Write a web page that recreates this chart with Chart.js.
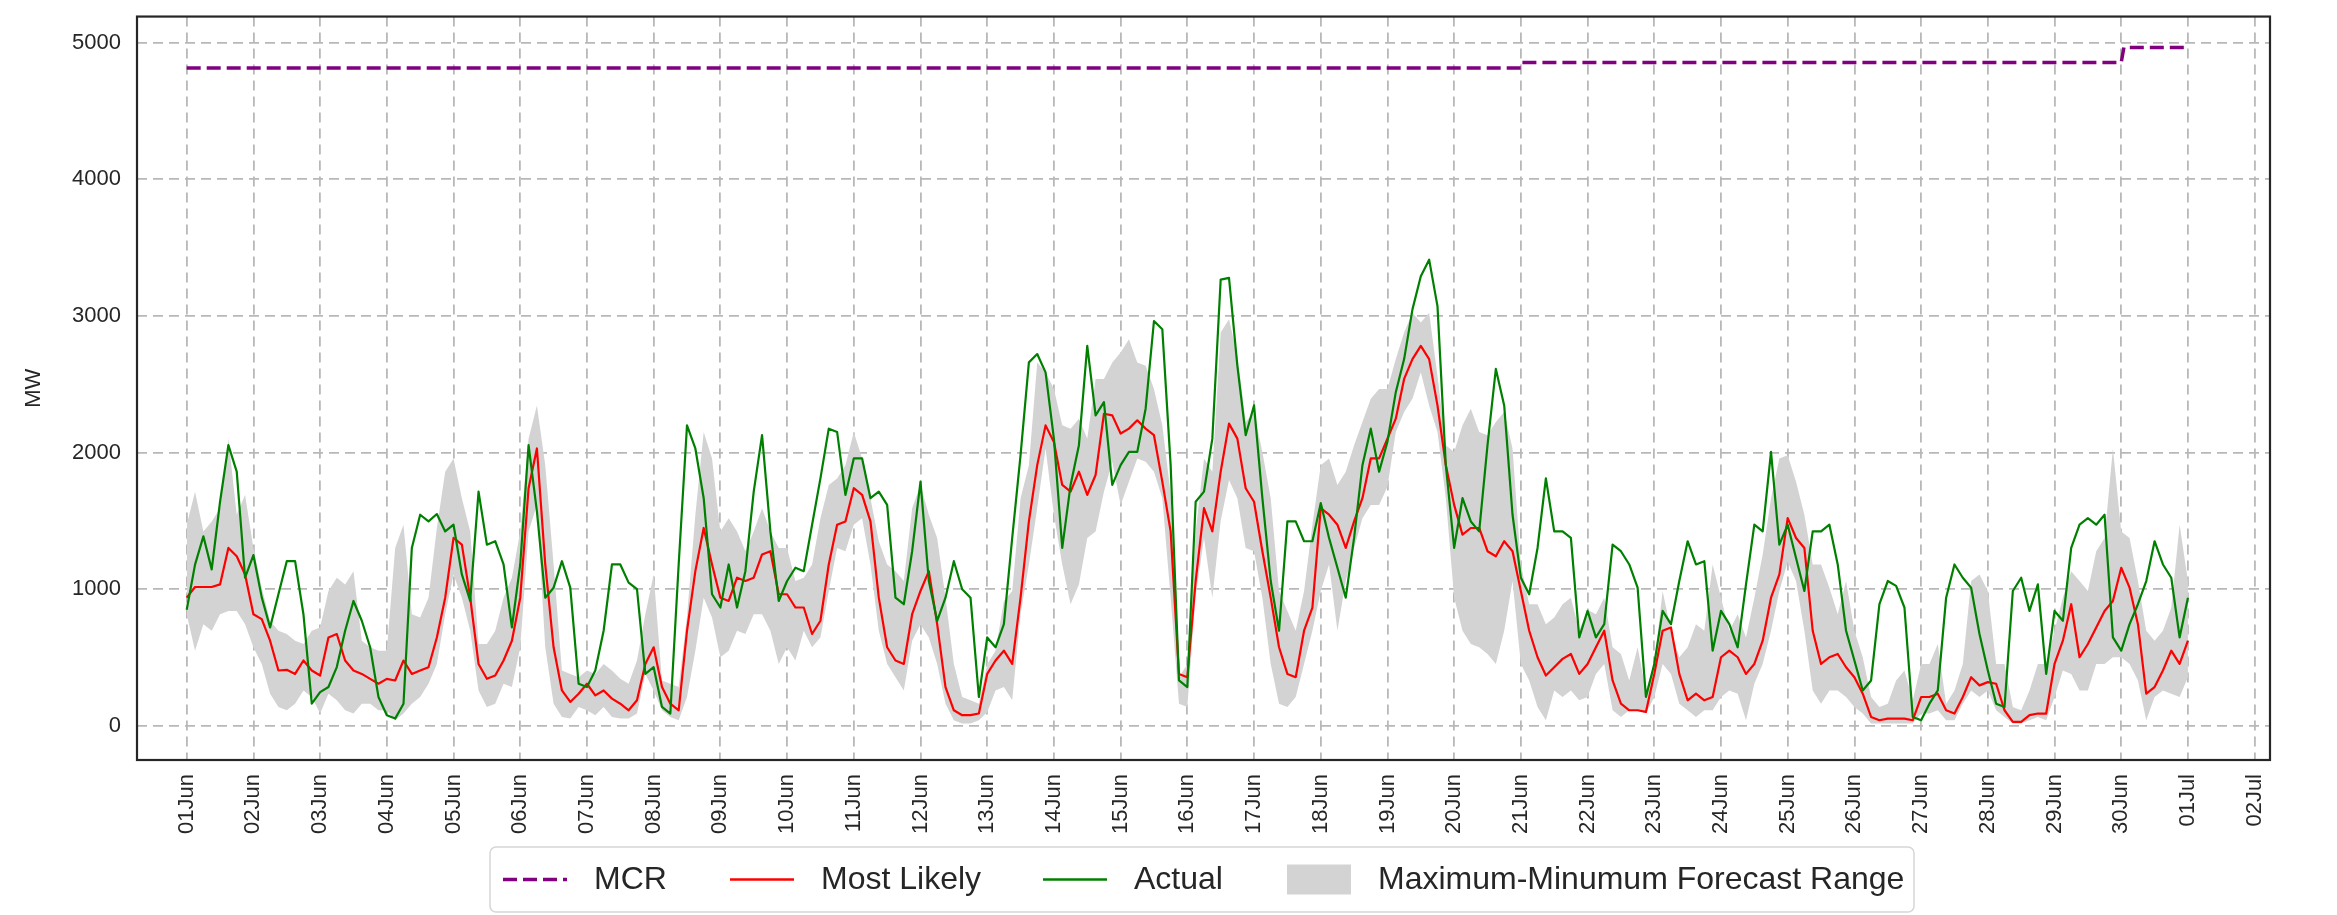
<!DOCTYPE html>
<html><head><meta charset="utf-8">
<script src="https://cdn.jsdelivr.net/npm/chart.js@4.4.0/dist/chart.umd.min.js"></script>
<style>html,body{margin:0;padding:0;background:#fff;overflow:hidden}#wrap{width:2337px;height:915px}</style>
</head><body><div id="wrap"><canvas id="c" width="2337" height="915"></canvas></div>
<script>
const dayLabels = ['01Jun','02Jun','03Jun','04Jun','05Jun','06Jun','07Jun','08Jun','09Jun','10Jun','11Jun','12Jun','13Jun','14Jun','15Jun','16Jun','17Jun','18Jun','19Jun','20Jun','21Jun','22Jun','23Jun','24Jun','25Jun','26Jun','27Jun','28Jun','29Jun','30Jun','01Jul','02Jul'];
const yTicks = [0,1000,2000,3000,4000,5000];
const stepHours = 3;

const actual = [
850,1180,1387,1145,1640,2054,1860,1084,1250,940,720,963,1205,1205,817,162,247,284,430,696,914,769,575,211,
78,53,162,1302,1545,1496,1550,1423,1472,1108,914,1714,1326,1351,1181,720,1181,2054,1569,938,1011,1205,1011,308,
284,405,696,1181,1181,1048,1000,380,429,138,90,1181,2199,2030,1666,963,866,1181,866,1132,1714,2127,1423,914,
1060,1157,1132,1472,1811,2175,2151,1690,1957,1957,1666,1714,1617,938,890,1278,1787,1060,769,938,1205,1000,938,211,
647,575,744,1375,1981,2660,2721,2587,2102,1302,1763,2054,2781,2272,2369,1763,1908,2005,2005,2321,2963,2903,1908,332,
284,1640,1714,2102,3266,3279,2636,2127,2345,1666,1060,696,1496,1496,1351,1351,1630,1375,1157,938,1375,1908,2175,1860,
2080,2442,2684,3048,3291,3412,3072,1908,1302,1666,1496,1423,2054,2612,2345,1545,1084,963,1302,1811,1423,1423,1375,647,
841,647,744,1326,1278,1181,1011,211,453,841,744,1060,1351,1181,1205,550,841,744,575,1035,1472,1423,2005,1326,
1472,1229,987,1423,1423,1472,1181,696,478,259,332,890,1060,1024,866,65,41,162,259,938,1181,1084,1011,672,
405,162,138,987,1084,841,1035,380,841,769,1302,1472,1520,1472,1545,647,550,744,890,1060,1351,1181,1084,647,
938];

const mostLikely = [
938,1016,1016,1016,1035,1302,1241,1108,817,781,623,405,410,380,478,405,368,647,672,478,405,380,344,308,
344,332,478,380,405,429,647,938,1375,1326,938,453,344,368,478,623,938,1739,2030,1181,575,259,175,235,
308,223,259,199,162,114,187,453,575,284,162,114,696,1132,1448,1181,938,914,1084,1060,1084,1254,1278,963,
963,866,866,672,769,1181,1472,1496,1739,1690,1496,938,575,478,453,817,987,1132,744,284,114,78,78,90,
380,478,550,453,938,1496,1908,2199,2078,1763,1714,1860,1690,1836,2284,2272,2139,2175,2236,2175,2127,1787,1423,380,
356,1060,1593,1423,1860,2212,2102,1739,1640,1278,938,575,380,356,696,866,1593,1545,1472,1302,1496,1666,1957,1957,
2102,2248,2539,2684,2781,2684,2345,1908,1617,1399,1448,1448,1278,1241,1351,1278,987,696,502,368,429,490,526,380,
453,575,696,332,162,114,114,102,380,696,720,380,187,235,187,211,502,550,502,380,453,623,938,1108,
1520,1375,1302,696,453,502,526,429,356,235,65,41,53,53,53,41,211,211,235,114,90,211,356,296,
320,308,114,29,29,78,90,90,453,623,890,502,599,720,841,914,1157,1011,744,235,284,405,550,453,
623];

const forecastMax = [
1472,1714,1423,1496,1593,2102,1545,1690,1302,1011,769,696,672,623,599,696,720,987,1084,1035,1132,623,575,550,
550,1302,1472,817,793,938,1448,1860,1957,1666,1423,599,599,696,938,1084,1423,2102,2345,1908,1181,405,380,356,
405,380,453,405,344,308,478,817,1108,332,308,284,800,1545,2151,1957,1423,1520,1423,1278,1423,1593,1423,1302,
1302,1060,1084,1181,1520,1763,1811,1908,2151,1957,1666,1351,1181,1132,1060,1593,1763,1545,1375,938,453,211,187,162,
450,550,914,987,1666,1908,2660,2587,2466,2199,2175,2248,2102,2539,2539,2660,2733,2830,2660,2636,2466,2199,1700,356,
450,1423,1957,1860,2878,2975,2709,2224,2296,2005,1666,987,841,696,987,1472,1908,1957,1763,1860,2054,2224,2393,2466,
2466,2684,2878,3024,2951,3024,2563,2054,2005,2199,2321,2151,2127,2224,2296,2030,1181,890,890,744,793,890,938,696,
850,817,938,575,526,332,575,259,453,987,696,502,575,744,696,1181,938,696,817,647,938,1254,1666,1957,
1981,1787,1545,1181,1181,1011,817,1060,696,502,211,138,162,332,405,187,453,453,599,162,259,453,1060,1108,
987,453,453,138,114,259,453,453,696,938,1132,1060,987,1278,1375,2030,1423,1375,1060,696,623,696,866,1472,
1060];

const forecastMin = [
817,550,744,696,817,841,841,744,575,453,235,138,114,162,259,211,90,235,187,114,90,162,162,114,
114,41,90,162,211,308,453,817,1108,938,696,259,138,162,308,284,575,1423,1617,575,162,65,53,138,
114,78,138,65,53,53,90,380,259,114,65,41,211,550,938,793,502,550,696,672,817,817,696,453,
575,478,696,575,647,987,1302,1278,1472,1520,1181,696,453,356,259,623,744,647,453,162,41,17,17,41,
100,259,284,187,817,1181,1593,2030,1545,1181,890,1035,1375,1423,1714,1933,1617,1787,1957,1933,1860,1666,938,162,
138,950,1375,938,1500,1800,1666,1302,1278,938,453,162,138,211,453,696,987,1181,696,1060,1302,1520,1617,1617,
1750,2151,2296,2393,2587,2345,2151,1666,938,696,599,575,526,453,696,1060,453,332,138,41,259,211,259,187,
211,380,453,114,65,114,114,90,211,453,380,162,114,65,114,114,211,259,235,41,308,453,696,987,
1200,1060,696,259,162,259,259,211,138,90,17,17,17,17,17,17,90,90,114,41,41,162,259,211,
259,114,65,17,17,41,65,41,211,405,380,259,259,453,453,502,502,453,332,41,211,259,235,211,
356];

const mcrDays = [0, 20, 20.02, 29, 29.04, 29.96];
const mcrValues = [4815, 4815, 4855, 4855, 4965, 4965];

const toPts = arr => arr.map((v, i) => ({x: i * stepHours / 24, y: v}));
const mcrPts = mcrDays.map((d, i) => ({x: d, y: mcrValues[i]}));

const FONT = "'Liberation Sans', Arial, sans-serif";
const TXT = '#262626';
const AREA = {top: 12, bottom: 760, left: 137, right: 2270};

const framePlugin = {
  id: 'frame',
  afterDraw(chart) {
    const {ctx, chartArea: a} = chart;
    ctx.save();
    ctx.strokeStyle = '#262626';
    ctx.lineWidth = 2.2;
    ctx.strokeRect(a.left, a.top, a.right - a.left, a.bottom - a.top);
    ctx.restore();
  }
};

const legendItems = [
  {label: 'MCR', type: 'dash', color: '#800080', hx: 503, tx: 594},
  {label: 'Most Likely', type: 'line', color: '#ff0000', hx: 730, tx: 821},
  {label: 'Actual', type: 'line', color: '#008000', hx: 1043, tx: 1134},
  {label: 'Maximum-Minumum Forecast Range', type: 'box', color: '#d3d3d3', hx: 1287, tx: 1378}
];

const legendPlugin = {
  id: 'mplLegend',
  afterDraw(chart) {
    const ctx = chart.ctx;
    ctx.save();
    const bx = 490, by = 847, bw = 1424, bh = 65;
    ctx.beginPath();
    ctx.roundRect(bx, by, bw, bh, 6);
    ctx.fillStyle = '#ffffff';
    ctx.fill();
    ctx.lineWidth = 1.5;
    ctx.strokeStyle = '#d6d6d6';
    ctx.stroke();
    const cy = by + bh / 2;
    ctx.font = '32px ' + FONT;
    ctx.textBaseline = 'middle';
    ctx.textAlign = 'left';
    legendItems.forEach(it => {
      if (it.type === 'box') {
        ctx.fillStyle = it.color;
        ctx.fillRect(it.hx, cy - 15, 64, 30);
      } else {
        ctx.beginPath();
        ctx.strokeStyle = it.color;
        ctx.lineWidth = it.type === 'dash' ? 3.5 : 2.5;
        ctx.setLineDash(it.type === 'dash' ? [14, 6] : []);
        ctx.moveTo(it.hx, cy);
        ctx.lineTo(it.hx + 64, cy);
        ctx.stroke();
        ctx.setLineDash([]);
      }
      ctx.fillStyle = TXT;
      ctx.fillText(it.label, it.tx, cy + 1);
    });
    ctx.restore();
  }
};

const chart = new Chart(document.getElementById('c'), {
  type: 'line',
  data: {
    datasets: [
      {label: 'Actual', data: toPts(actual), borderColor: '#008000', borderWidth: 2.2, pointRadius: 0, tension: 0, fill: false, borderJoinStyle: 'round'},
      {label: 'Most Likely', data: toPts(mostLikely), borderColor: '#ff0000', borderWidth: 2.2, pointRadius: 0, tension: 0, fill: false, borderJoinStyle: 'round'},
      {label: 'MCR', data: mcrPts, borderColor: '#800080', borderWidth: 3.5, borderDash: [14, 6], pointRadius: 0, tension: 0, fill: false},
      {label: 'Maximum-Minumum Forecast Range', data: toPts(forecastMax), borderWidth: 0, borderColor: 'rgba(0,0,0,0)', backgroundColor: '#d3d3d3', pointRadius: 0, tension: 0, fill: '+1'},
      {label: 'min', data: toPts(forecastMin), borderWidth: 0, borderColor: 'rgba(0,0,0,0)', pointRadius: 0, tension: 0, fill: false}
    ]
  },
  options: {
    responsive: false,
    animation: false,
    devicePixelRatio: 1,
    layout: {padding: {top: 12, right: 67, left: 0, bottom: 0}},
    plugins: {legend: {display: false}, tooltip: {enabled: false}},
    scales: {
      x: {
        type: 'linear', min: -0.745, max: 31.23,
        afterBuildTicks: s => { s.ticks = dayLabels.map((_, i) => ({value: i})); },
        afterFit: s => { s.height = 155; },
        ticks: {autoSkip: false, maxRotation: 90, minRotation: 90, padding: 14, color: TXT,
          font: {family: FONT, size: 22, lineHeight: 0.05}, callback: v => dayLabels[v]},
        grid: {color: '#b8b8b8', lineWidth: 1.8, drawTicks: false},
        border: {display: false, dash: [10, 6]}
      },
      y: {
        min: -250, max: 5191,
        afterBuildTicks: s => { s.ticks = yTicks.map(v => ({value: v})); },
        afterFit: s => { s.width = 137; },
        ticks: {padding: 16, color: TXT, font: {family: FONT, size: 22, lineHeight: 0.05}, callback: v => String(v)},
        title: {display: true, text: 'MW', color: TXT, font: {family: FONT, size: 22}, padding: {top: 21, bottom: 0}},
        grid: {color: '#b8b8b8', lineWidth: 1.8, drawTicks: false},
        border: {display: false, dash: [10, 6]}
      }
    }
  },
  plugins: [framePlugin, legendPlugin]
});

function fixArea() {
  const a = chart.chartArea, p = chart.options.layout.padding;
  const dt = a.top - AREA.top, db = a.bottom - AREA.bottom, dl = a.left - AREA.left, dr = a.right - AREA.right;
  let changed = false;
  if (Math.abs(dt) > 0.25) { p.top = Math.max(0, p.top - dt); changed = true; }
  if (Math.abs(db) > 0.25) { p.bottom = Math.max(0, p.bottom + db); changed = true; }
  if (Math.abs(dl) > 0.25) { p.left = Math.max(0, p.left - dl); changed = true; }
  if (Math.abs(dr) > 0.25) { p.right = Math.max(0, p.right + dr); changed = true; }
  if (changed) chart.update();
}
fixArea(); fixArea(); fixArea();
</script></body></html>
